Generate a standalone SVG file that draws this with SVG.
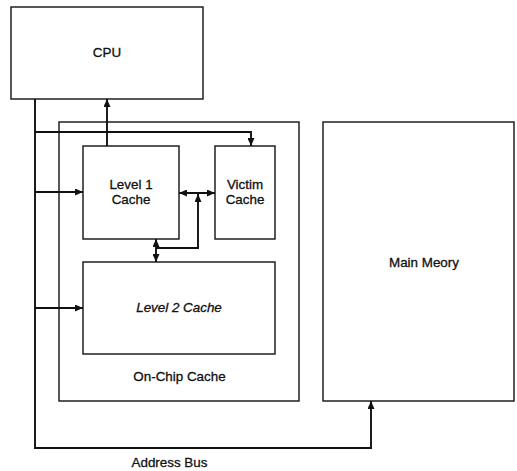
<svg xmlns="http://www.w3.org/2000/svg" width="517" height="471" viewBox="0 0 517 471">
<style>
.box{fill:#fff;stroke:#111;stroke-width:1.4}
.ln{fill:none;stroke:#111;stroke-width:1.9}
.t{font-family:"Liberation Sans",Arial,sans-serif;font-size:13.4px;fill:#111;stroke:#111;stroke-width:0.3;text-anchor:middle}
</style>
<defs>
<marker id="ah" viewBox="0 0 10 10" refX="10" refY="5" markerWidth="8" markerHeight="7" markerUnits="userSpaceOnUse" orient="auto-start-reverse" preserveAspectRatio="none">
<path d="M0,0 L10,5 L0,10 z" fill="#111"/>
</marker>
</defs>
<g id="cpu"><rect class="box" x="11" y="7" width="192" height="92"/><text class="t" x="107" y="57">CPU</text></g>
<g id="onchip"><rect class="box" x="59" y="122" width="240" height="279"/><text class="t" x="179.5" y="381">On-Chip Cache</text></g>
<g id="l1"><rect class="box" x="83" y="146" width="96" height="93"/><text class="t" x="131" y="189">Level 1</text><text class="t" x="131" y="204">Cache</text></g>
<g id="victim"><rect class="box" x="215" y="146" width="60" height="93"/><text class="t" x="245" y="189">Victim</text><text class="t" x="245" y="204">Cache</text></g>
<g id="l2"><rect class="box" x="83" y="262" width="192" height="92"/><text class="t" x="179" y="312" font-style="italic">Level 2 Cache</text></g>
<g id="mainmem"><rect class="box" x="323" y="122" width="191" height="279"/><text class="t" x="424" y="267">Main Meory</text></g>
<g id="connectors">
<path class="ln" d="M35,99 V448 H371 V401" marker-end="url(#ah)"/>
<path class="ln" d="M35,132 H251 V146" marker-end="url(#ah)"/>
<path class="ln" d="M107,146 V99" marker-end="url(#ah)"/>
<path class="ln" d="M35,192 H83" marker-end="url(#ah)"/>
<path class="ln" d="M35,308 H83" marker-end="url(#ah)"/>
<path class="ln" d="M179,193 H215" marker-start="url(#ah)" marker-end="url(#ah)"/>
<path class="ln" d="M156,248 H198 V194" marker-end="url(#ah)"/>
<path class="ln" d="M156,239 V262" marker-start="url(#ah)" marker-end="url(#ah)"/>
</g>
<text class="t" x="169.5" y="467">Address Bus</text>
</svg>
